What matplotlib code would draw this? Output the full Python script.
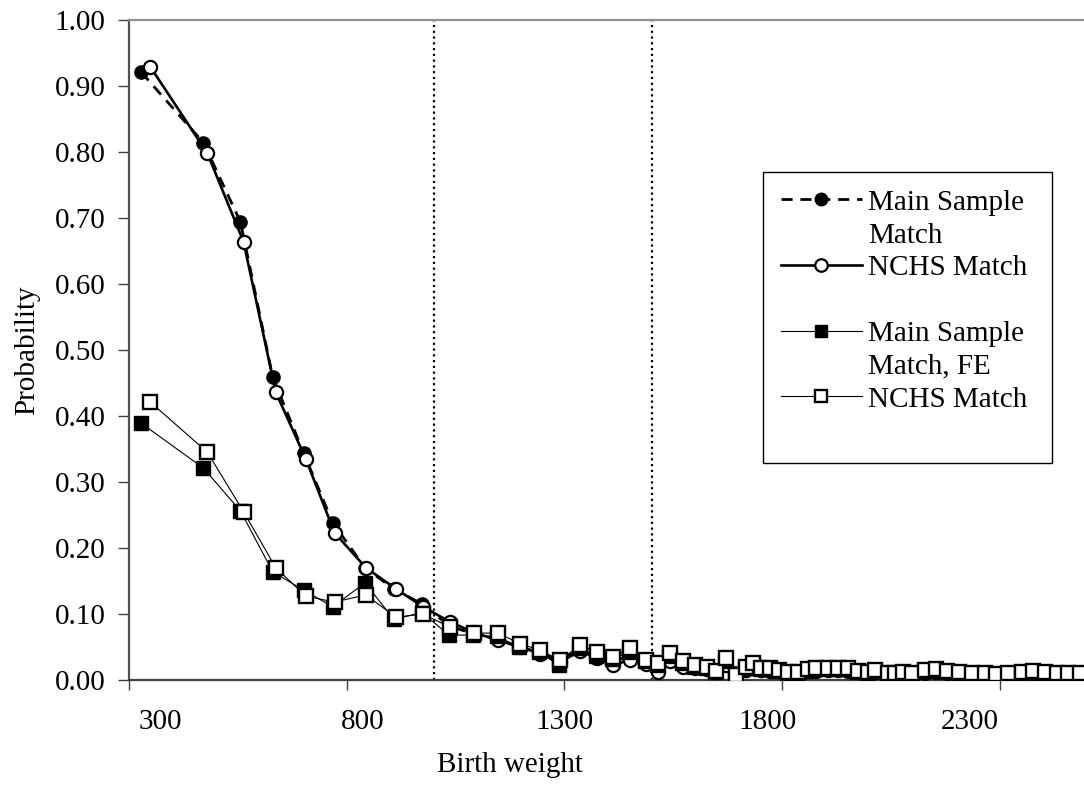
import matplotlib
matplotlib.use("Agg")
import matplotlib.pyplot as plt
from matplotlib.lines import Line2D

plt.rcParams['font.family'] = ['Liberation Serif', 'DejaVu Serif']
plt.rcParams['font.size'] = 21

# Birth weight (grams) for each bin, main sample and NCHS sample
x_main = [328, 471, 556, 630, 701, 768, 842, 908, 973, 1035,
          1090, 1145, 1196, 1242, 1288, 1334, 1373, 1410, 1449, 1486,
          1513, 1541, 1571, 1598, 1626, 1645, 1668, 1691, 1714, 1732,
          1750, 1771, 1790, 1812, 1835, 1858, 1876, 1902, 1925, 1948,
          1971, 1994, 2012, 2040, 2058, 2076, 2097, 2125, 2152, 2177,
          2205, 2233, 2263, 2290, 2316, 2348, 2373, 2401, 2429, 2454,
          2482]
x_nchs = [349, 480, 563, 637, 706, 772, 844, 913, 975, 1037,
          1092, 1147, 1198, 1244, 1290, 1336, 1375, 1412, 1451, 1488,
          1515, 1543, 1573, 1600, 1628, 1647, 1670, 1693, 1716, 1734,
          1752, 1773, 1792, 1814, 1837, 1860, 1878, 1904, 1927, 1950,
          1973, 1996, 2014, 2042, 2060, 2078, 2099, 2127, 2154, 2179,
          2207, 2235, 2265, 2292, 2318, 2350, 2375, 2403, 2431, 2456,
          2484]

main_match = [0.921, 0.814, 0.694, 0.459, 0.344, 0.238, 0.170, 0.138, 0.115, 0.082,
              0.070, 0.062, 0.050, 0.042, 0.030, 0.046, 0.034, 0.030, 0.034, 0.026,
              0.016, 0.030, 0.022, 0.020, 0.018, 0.014, 0.024, 0.010, 0.016, 0.020,
              0.016, 0.015, 0.014, 0.012, 0.012, 0.014, 0.015, 0.016, 0.016, 0.015,
              0.013, 0.012, 0.013, 0.011, 0.010, 0.011, 0.010, 0.012, 0.013, 0.012,
              0.011, 0.010, 0.010, 0.009, 0.009, 0.010, 0.011, 0.010, 0.010, 0.009,
              0.009]
nchs_match = [0.929, 0.798, 0.664, 0.436, 0.335, 0.223, 0.170, 0.138, 0.111, 0.088,
              0.072, 0.060, 0.050, 0.040, 0.027, 0.044, 0.033, 0.022, 0.031, 0.024,
              0.012, 0.028, 0.020, 0.018, 0.016, 0.012, 0.022, 0.008, 0.015, 0.018,
              0.015, 0.014, 0.013, 0.011, 0.011, 0.013, 0.014, 0.015, 0.015, 0.014,
              0.012, 0.011, 0.012, 0.010, 0.009, 0.010, 0.009, 0.011, 0.012, 0.011,
              0.010, 0.009, 0.009, 0.008, 0.008, 0.009, 0.010, 0.009, 0.009, 0.008,
              0.008]
main_fe = [0.389, 0.321, 0.256, 0.164, 0.136, 0.111, 0.147, 0.092, 0.102, 0.068,
           0.068, 0.066, 0.050, 0.042, 0.022, 0.048, 0.036, 0.032, 0.042, 0.028,
           0.022, 0.036, 0.025, 0.020, 0.018, 0.012, 0.028, 0.006, 0.018, 0.022,
           0.016, 0.016, 0.013, 0.011, 0.011, 0.014, 0.016, 0.016, 0.016, 0.016,
           0.012, 0.010, 0.013, 0.010, 0.009, 0.011, 0.009, 0.013, 0.014, 0.012,
           0.011, 0.009, 0.009, 0.008, 0.009, 0.011, 0.012, 0.011, 0.010, 0.009,
           0.009]
nchs_fe = [0.421, 0.345, 0.255, 0.170, 0.127, 0.118, 0.129, 0.095, 0.100, 0.080,
           0.071, 0.071, 0.055, 0.045, 0.030, 0.053, 0.042, 0.035, 0.048, 0.030,
           0.026, 0.041, 0.029, 0.023, 0.020, 0.014, 0.033, 0.008, 0.020, 0.026,
           0.018, 0.018, 0.015, 0.012, 0.012, 0.016, 0.018, 0.018, 0.018, 0.018,
           0.014, 0.012, 0.015, 0.011, 0.010, 0.012, 0.010, 0.015, 0.016, 0.014,
           0.012, 0.010, 0.010, 0.009, 0.010, 0.012, 0.013, 0.012, 0.011, 0.010,
           0.010]

cutoffs = [1000, 1500]
x_ticks = [300, 800, 1300, 1800, 2300]
# the reference prints its x labels a little off its tick marks
x_label_pos = [372, 837, 1301, 1766, 2231]
y_ticks = [0.0, 0.1, 0.2, 0.3, 0.4, 0.5, 0.6, 0.7, 0.8, 0.9, 1.0]

fig = plt.figure(figsize=(10.84, 7.89), dpi=100)
ax = fig.add_axes([0.119, 0.1382, 0.881, 0.8365])

dash_style = (0, (4, 2.8))
ax.plot(x_main, main_match, color='black', lw=2, ls=dash_style,
        marker='o', ms=9.5, mfc='black', mec='black', zorder=3)
ax.plot(x_nchs, nchs_match, color='black', lw=1.9, ls='-',
        marker='o', ms=9.5, mfc='white', mec='black', mew=1.6, zorder=4)
ax.plot(x_main, main_fe, color='black', lw=0.8, ls='-',
        marker='s', ms=9.5, mfc='black', mec='black', zorder=5)
ax.plot(x_nchs, nchs_fe, color='black', lw=0.8, ls='-',
        marker='s', ms=9.5, mfc='white', mec='black', mew=1.7, zorder=6)

for c in cutoffs:
    ax.axvline(c, color='black', ls=(0, (1, 1.6)), lw=1.6, zorder=2)

ax.set_xlim(300, 2493)
ax.set_ylim(0, 1.0)
ax.set_yticks(y_ticks)
ax.set_yticklabels([f"{v:.2f}" for v in y_ticks])
ax.set_xticks(x_ticks)
ax.set_xticklabels([])
ax.set_xticks(x_label_pos, minor=True)
ax.set_xticklabels([str(v) for v in x_ticks], minor=True)
ax.tick_params(axis='x', which='major', direction='out', length=7, width=1, color='#404040')
ax.tick_params(axis='x', which='minor', length=0, pad=21)
ax.tick_params(axis='y', direction='out', length=8, width=1, color='#404040', pad=9)

ax.spines['right'].set_visible(False)
ax.spines['left'].set_color('#505050')
ax.spines['left'].set_linewidth(1.6)
ax.spines['bottom'].set_color('#404040')
ax.spines['bottom'].set_linewidth(1.6)
ax.spines['top'].set_color('#909090')
ax.spines['top'].set_linewidth(1.6)

ax.set_xlabel("Birth weight", x=0.399, labelpad=12)
ax.set_ylabel("Probability", labelpad=10)

blank = Line2D([], [], color='none')
handles = [
    Line2D([], [], color='black', lw=2, ls=dash_style, marker='o', ms=9, mfc='black'),
    blank,
    Line2D([], [], color='black', lw=1.9, marker='o', ms=9, mfc='white', mew=1.6),
    blank,
    Line2D([], [], color='black', lw=0.8, marker='s', ms=8, mfc='black'),
    blank,
    Line2D([], [], color='black', lw=0.8, marker='s', ms=8, mfc='white', mew=1.7),
    blank,
]
labels = ["Main Sample", "Match", "NCHS Match", "", "Main Sample", "Match, FE", "NCHS Match", ""]
leg = ax.legend(handles, labels, loc='upper left',
                bbox_to_anchor=(0.664, 0.0, 0.3026, 0.770), mode='expand',
                frameon=True, fancybox=False, edgecolor='black', framealpha=1,
                handlelength=2.8, handletextpad=0.2, labelspacing=0.22,
                borderpad=0.6, borderaxespad=0, numpoints=1)
leg.get_frame().set_linewidth(1.0)

fig.savefig("out.png", dpi=100)
